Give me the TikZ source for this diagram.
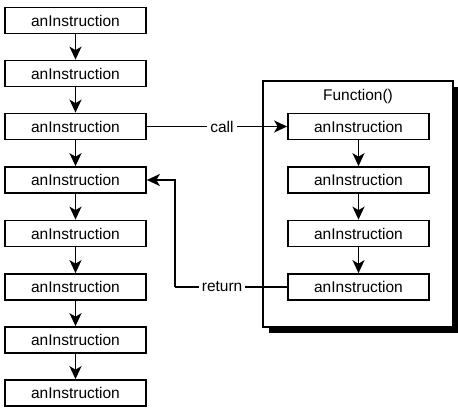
\documentclass[tikz,border=0pt]{standalone}
\usepackage{fontspec}
\setmainfont{Liberation Sans}
\usetikzlibrary{arrows.meta}
\begin{document}
\begin{tikzpicture}[x=1pt,y=-1pt,
  inst/.style={draw,line width=1.7pt,minimum width=141pt,minimum height=26pt,inner sep=0pt,font=\fontsize{15.5}{17}\selectfont},
  lbl/.style={font=\fontsize{15.5}{17}\selectfont,fill=white,inner sep=3pt},
  arr/.style={line width=1.7pt,-{Stealth[length=13pt,width=12pt,inset=3.5pt]}},
  ln/.style={line width=1.7pt}]
\useasboundingbox (0,0) rectangle (458,410);
% function frame with shadow
\fill[black] (269,87) rectangle (458,333);
\draw[line width=1.7pt,fill=white] (263,81) rectangle (453,327);
\node[font=\fontsize{15.5}{17}\selectfont] (ftitle) at (358,96) {Function()};
% left column
\foreach \i/\y in {1/20.5,2/73.5,3/126.5,4/180,5/233.5,6/287,7/340,8/393}{
  \node[inst] (L\i) at (75.5,\y) {anInstruction};
}
\foreach \i/\y in {1/126.5,2/180,3/233.5,4/287}{
  \node[inst] (F\i) at (358.5,\y) {anInstruction};
}
\foreach \a/\b in {1/2,2/3,3/4,4/5,5/6,6/7,7/8}{
  \draw[arr] (L\a) -- (L\b);
}
\foreach \a/\b in {1/2,2/3,3/4}{
  \draw[arr] (F\a) -- (F\b);
}
% call
\draw[arr] (L3.east) -- (F1.west) node[lbl,pos=0.535] (call) {call};
% return
\coordinate (rc) at (175,287);
\coordinate (rt) at (175,180);
\draw[ln] (F4.west) -- (rc) node[lbl,pos=0.58] (ret) {return};
\draw[arr] (rc) -- (rt) -- (L4.east);
\end{tikzpicture}
\end{document}
